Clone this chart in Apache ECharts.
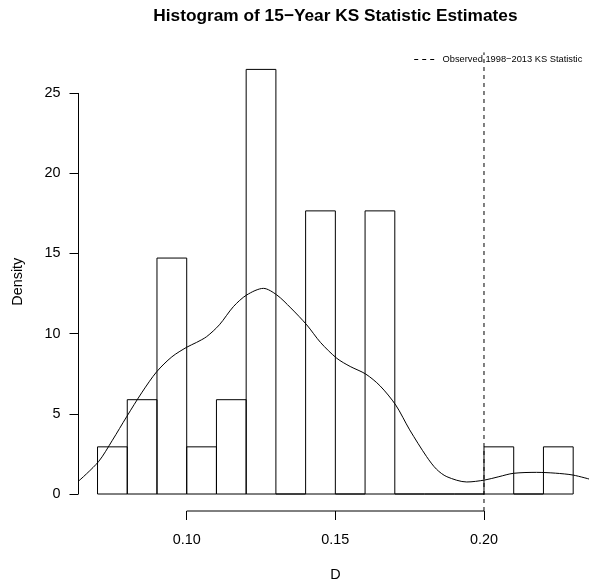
<!DOCTYPE html>
<html><head><meta charset="utf-8">
<script src="https://cdn.jsdelivr.net/npm/echarts@6/dist/echarts.min.js"></script>
<style>html,body{margin:0;padding:0;background:#fff}#c{width:589px;height:583px}</style>
</head><body><div id="c"></div>
<script>
// ---- data ----
const breaks = [0.07,0.08,0.09,0.10,0.11,0.12,0.13,0.14,0.15,0.16,0.17,0.18,0.19,0.20,0.21,0.22,0.23];
const densities = [2.94,5.88,14.71,2.94,5.88,26.47,0,17.65,0,17.65,0,0,0,2.94,0,2.94];
const kdeX = [0.0636,0.0703,0.0750,0.0798,0.0850,0.0899,0.0950,0.1000,0.1033,0.1067,0.1110,0.1157,0.1202,0.1258,0.1303,0.1350,0.1404,0.1450,0.1505,0.1550,0.1602,0.1650,0.1703,0.1750,0.1807,0.1840,0.1875,0.1942,0.2002,0.2050,0.2099,0.2177,0.2240,0.2300,0.2364];
const kdeY = [0.80,2.01,3.35,4.82,6.35,7.62,8.55,9.15,9.45,9.81,10.55,11.68,12.41,12.82,12.41,11.60,10.54,9.45,8.46,7.95,7.48,6.75,5.55,4.00,2.33,1.55,1.08,0.75,0.87,1.08,1.29,1.35,1.30,1.18,0.88];
const xTicks = [0.10,0.15,0.20];
const yTicks = [0,5,10,15,20,25];
const observedD = 0.20;
const xRange = [0.0636,0.2364];
const yRange = [-1.059,27.53];
const titleText = 'Histogram of 15\u2212Year KS Statistic Estimates';
const legendText = 'Observed 1998\u22122013 KS Statistic';
const xName = 'D';
const yName = 'Density';

// ---- build ----
const FONT = 'Liberation Sans, Arial, Helvetica, sans-serif';
const binData = densities.map((d,i)=>[breaks[i],breaks[i+1],d]);
const kdeData = kdeX.map((x,i)=>[x,kdeY[i]]);
const chart = echarts.init(document.getElementById('c'), null, {renderer:'canvas'});
chart.setOption({
  backgroundColor:'#fff',
  animation:false,
  title:{text:titleText,left:335.4,top:16,padding:0,textAlign:'center',textVerticalAlign:'middle',
    textStyle:{fontFamily:FONT,fontSize:17.28,fontWeight:'bold',color:'#000'}},
  grid:{left:78.5,top:52.4,width:513.7,bottom:72,containLabel:false,outerBoundsMode:'none'},
  xAxis:{type:'value',min:xRange[0],max:xRange[1],
    axisLine:{show:false,onZero:false},splitLine:{show:false},
    axisTick:{show:true,customValues:xTicks,length:9,lineStyle:{color:'#000',width:1}},
    axisLabel:{customValues:xTicks,formatter:v=>v.toFixed(2),margin:22,fontSize:14.4,color:'#000',fontFamily:FONT},
    name:xName,nameLocation:'middle',nameGap:57,nameTextStyle:{fontSize:14.4,color:'#000',fontFamily:FONT}},
  yAxis:{type:'value',min:yRange[0],max:yRange[1],
    axisLine:{show:false,onZero:false},splitLine:{show:false},
    axisTick:{show:true,customValues:yTicks,length:9,lineStyle:{color:'#000',width:1}},
    axisLabel:{customValues:yTicks,margin:18,fontSize:14.4,color:'#000',fontFamily:FONT},
    name:yName,nameLocation:'middle',nameGap:53,nameRotate:90,nameTextStyle:{fontSize:14.4,color:'#000',fontFamily:FONT}},
  graphic:[{type:'group',left:411.7,top:55,children:[
    {type:'line',shape:{x1:0,y1:5,x2:20,y2:5},style:{stroke:'#000',lineWidth:1,lineDash:[4,4]}},
    {type:'text',x:28.3,y:5,style:{text:legendText,fontSize:9.3,fontFamily:FONT,fill:'#000',verticalAlign:'middle',align:'left'}}
  ]}],
  series:[
    {type:'custom',data:binData,silent:true,clip:false,
      renderItem:(params,api)=>{
        const p0=api.coord([api.value(0),0]);
        const p1=api.coord([api.value(1),api.value(2)]);
        return {type:'rect',shape:{x:p0[0],y:p1[1],width:p1[0]-p0[0],height:p0[1]-p1[1]},
          style:{fill:'transparent',stroke:'#000',lineWidth:1}};
      }},
    {type:'line',data:kdeData,smooth:0.3,symbol:'none',silent:true,
      lineStyle:{color:'#000',width:1}},
    {type:'line',data:[[observedD,yRange[0]],[observedD,yRange[1]]],symbol:'none',silent:true,
      lineStyle:{color:'#000',width:1,type:[4,4]}},
    {type:'line',data:[[xTicks[0],yRange[0]],[xTicks[xTicks.length-1],yRange[0]]],symbol:'none',silent:true,clip:false,
      lineStyle:{color:'#000',width:1}},
    {type:'line',data:[[xRange[0],yTicks[0]],[xRange[0],yTicks[yTicks.length-1]]],symbol:'none',silent:true,clip:false,
      lineStyle:{color:'#000',width:1}}
  ]
});
</script></body></html>
